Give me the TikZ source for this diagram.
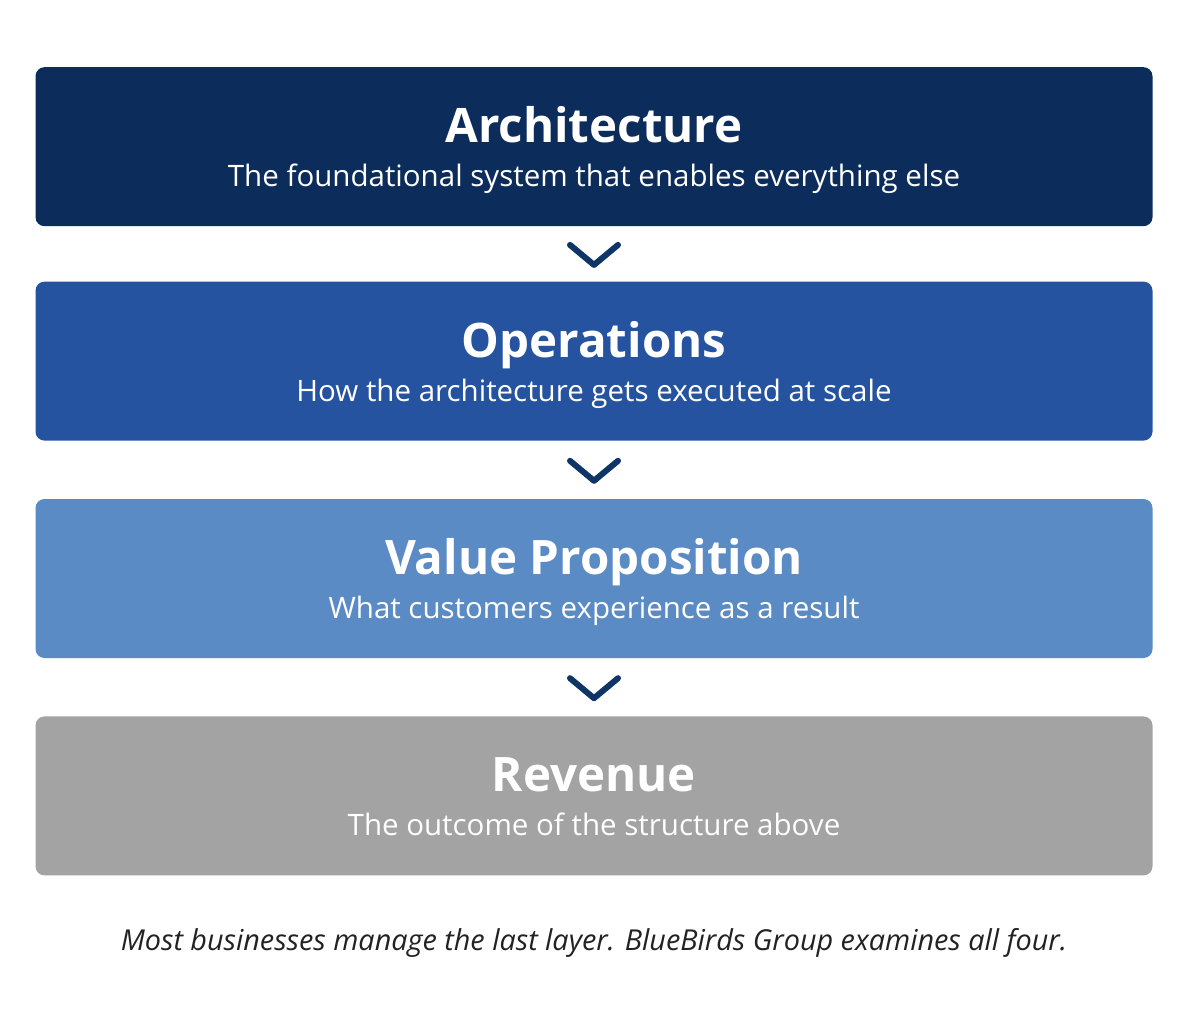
\documentclass[tikz,border=0pt]{standalone}
\usepackage{fontspec}
\setmainfont{Open Sans}
\usetikzlibrary{positioning,calc}
\definecolor{archblue}{HTML}{0C2D5C}
\definecolor{opsblue}{HTML}{2553A0}
\definecolor{valblue}{HTML}{5B8BC5}
\definecolor{revgray}{HTML}{A3A3A3}
\definecolor{chevblue}{HTML}{0F3466}
\definecolor{foottext}{HTML}{222222}
\tikzset{
	layer/.style={rounded corners=9pt,minimum width=1117pt,minimum height=159pt,inner sep=0pt},
	layertitle/.style={text=white,anchor=base,inner sep=0pt,font=\fontsize{47.5}{52}\selectfont\bfseries},
	layersub/.style={text=white,anchor=base,inner sep=0pt,font=\fontsize{29.5}{34}\selectfont},
	chev/.style={draw=chevblue,line width=6pt,line cap=round,line join=round}
}
% title and subtitle inside a layer
\newcommand{\layerlabels}[3]{
	\node[layertitle] (#1-title) at ([yshift=4pt]#1.center) {#2};
	\node[layersub] (#1-sub) at ([yshift=-40pt]#1.center) {#3};
}
\begin{document}
\begin{tikzpicture}[x=1pt,y=-1pt]
	\useasboundingbox[fill=white] (0,0) rectangle (1188,1024);
	\node[layer,fill=archblue,anchor=north] (arch) at (594,67) {};
	\node[layer,fill=opsblue,below=55pt of arch] (ops) {};
	\node[layer,fill=valblue,below=58pt of ops] (value) {};
	\node[layer,fill=revgray,below=58pt of value] (rev) {};
	\layerlabels{arch}{Architecture}{The foundational system that enables everything else}
	\layerlabels{ops}{Operations}{How the architecture gets executed at scale}
	\layerlabels{value}{Value Proposition}{What customers experience as a result}
	\layerlabels{rev}{Revenue}{The outcome of the structure above}
	% chevrons between the layers
	\coordinate (c1) at ($(arch.south)!0.5!(ops.north)$);
	\coordinate (c2) at ($(ops.south)!0.5!(value.north)$);
	\coordinate (c3) at ($(value.south)!0.5!(rev.north)$);
	\foreach \c in {c1,c2,c3}
		\draw[chev] ([xshift=-24pt,yshift=9pt]\c) -- ([yshift=-11pt]\c) -- ([xshift=24pt,yshift=9pt]\c);
	\node[text=foottext,font=\fontsize{28.8}{33}\selectfont\itshape] (foot) at (594,943) {Most businesses manage the last layer. BlueBirds Group examines all four.};
\end{tikzpicture}
\end{document}
